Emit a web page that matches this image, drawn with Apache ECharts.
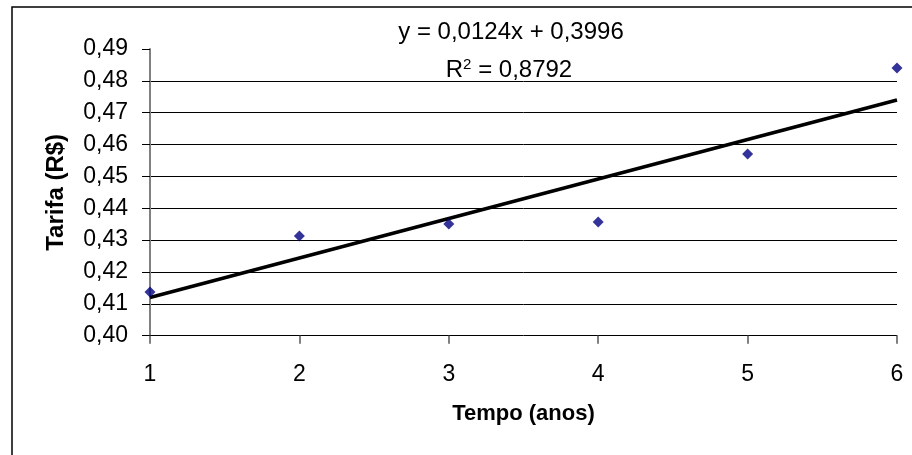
<!DOCTYPE html>
<html><head><meta charset="utf-8">
<script src="https://cdn.jsdelivr.net/npm/echarts@6/dist/echarts.min.js"></script>
<style>html,body{margin:0;padding:0;background:#fff}#c{width:912px;height:455px}</style>
</head><body><div id="c"></div>
<script>
const years = [1, 2, 3, 4, 5, 6];
const tarifa = [0.4137, 0.4313, 0.4351, 0.4357, 0.4570, 0.4840];
const trendX = [1, 6];
const trendY = [0.4120, 0.4740];
const equationText = 'y = 0,0124x + 0,3996';
const r2Text = '0,8792';
const xTitle = 'Tempo (anos)';
const yTitle = 'Tarifa (R$)';

const FONT = '"Liberation Sans", Arial, sans-serif';
const chart = echarts.init(document.getElementById('c'));
chart.setOption({
  animation: false,
  backgroundColor: '#fff',
  grid: { left: 150, right: 15, top: 49, bottom: 119.3 },
  xAxis: {
    type: 'value', min: 1, max: 6, interval: 1,
    name: xTitle, nameLocation: 'middle', nameGap: 67,
    nameTextStyle: { fontFamily: FONT, fontSize: 22, fontWeight: 'bold', color: '#000' },
    axisLine: { lineStyle: { color: '#000', width: 1 } },
    axisTick: { show: true, length: 8, lineStyle: { color: '#808080', width: 2 } },
    axisLabel: { margin: 27, fontFamily: FONT, fontSize: 23, color: '#000' },
    splitLine: { show: false }
  },
  yAxis: {
    type: 'value', min: 0.40, max: 0.49, interval: 0.01,
    name: yTitle, nameLocation: 'middle', nameGap: 82,
    nameTextStyle: { fontFamily: FONT, fontSize: 24, fontWeight: 'bold', color: '#000' },
    axisLine: { show: true, lineStyle: { color: '#808080', width: 2 } },
    axisTick: { show: true, length: 8, lineStyle: { color: '#000', width: 1 } },
    axisLabel: { margin: 22, fontFamily: FONT, fontSize: 23, color: '#000',
      formatter: v => v.toFixed(2).replace('.', ',') },
    splitLine: { show: true, showMinLine: false, showMaxLine: false, lineStyle: { color: '#000', width: 1 } }
  },
  series: [
    {
      type: 'line', data: trendX.map((x, i) => [x, trendY[i]]),
      symbol: 'none', lineStyle: { color: '#000', width: 3.5 }, z: 2
    },
    {
      type: 'scatter', data: years.map((x, i) => [x, tarifa[i]]),
      symbol: 'diamond', symbolSize: 11, itemStyle: { color: '#000080' }, z: 3
    }
  ],
  graphic: [
    { type: 'rect', shape: { x: 12, y: 7, width: 1200, height: 1200 },
      style: { fill: 'none', stroke: '#000', lineWidth: 1.5 }, silent: true },
    { type: 'text', x: 511, y: 32,
      style: { text: equationText, fontFamily: FONT, fontSize: 24, fill: '#000', align: 'center', verticalAlign: 'middle' } },
    { type: 'text', x: 509, y: 70,
      style: { text: 'R{s|2} = ' + r2Text, fontFamily: FONT, fontSize: 24, fill: '#000', align: 'center', verticalAlign: 'middle',
        rich: { s: { fontFamily: FONT, fontSize: 15, verticalAlign: 'top', padding: [0, 0, 11, 0] } } } }
  ]
});
</script>
</body></html>
